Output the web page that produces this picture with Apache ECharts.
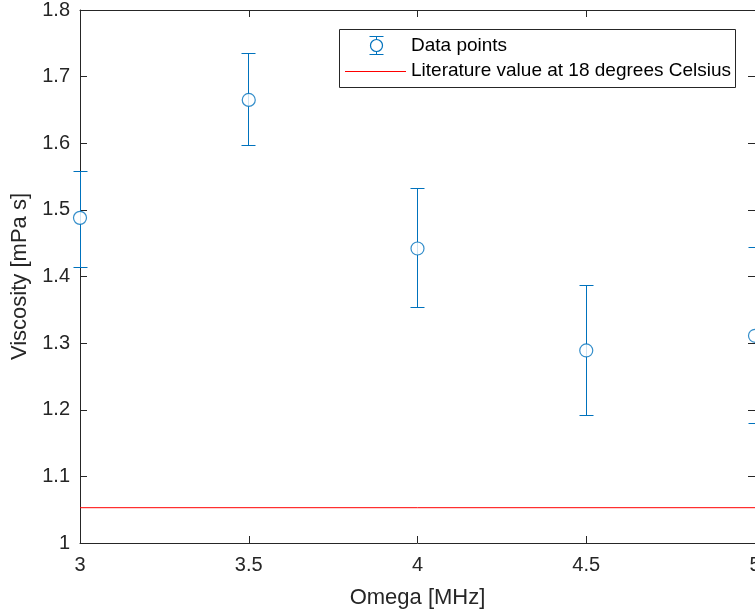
<!DOCTYPE html>
<html>
<head>
<meta charset="utf-8">
<script src="https://cdn.jsdelivr.net/npm/echarts@6/dist/echarts.min.js"></script>
<style>html,body{margin:0;padding:0;background:#fff}#c{width:755px;height:615px}</style>
</head>
<body>
<div id="c"></div>
<script>
// ---- data ----
const omega = [3, 3.5, 4, 4.5, 5];
const viscosity = [1.488, 1.665, 1.442, 1.289, 1.311];
const errLower = [1.413, 1.596, 1.354, 1.192, 1.180];
const errUpper = [1.558, 1.734, 1.532, 1.386, 1.444];
const literatureValue = 1.053;
const xTicks = [3, 3.5, 4, 4.5, 5];
const yTicks = [1, 1.1, 1.2, 1.3, 1.4, 1.5, 1.6, 1.7, 1.8];
const seriesNames = ['Data points', 'Literature value at 18 degrees Celsius'];

const blue = '#0072BD';
const red = '#FF0000';
const axisCol = '#262626';
const FONT = '"Liberation Sans", Arial, sans-serif';

const chart = echarts.init(document.getElementById('c'), null, {renderer: 'canvas'});

const errData = omega.map((x, i) => [x, errLower[i], errUpper[i]]);
const ptData = omega.map((x, i) => [x, viscosity[i]]);
const xMin = xTicks[0], xMax = xTicks[xTicks.length - 1];

const axisCommon = {
  axisLine: {show: true, lineStyle: {color: axisCol, width: 1}},
  axisTick: {show: true, inside: true, length: 7, lineStyle: {color: axisCol}},
  splitLine: {show: false}
};

const option = {
  animation: false,
  backgroundColor: '#fff',
  grid: {left: 80, right: 0, top: 10, bottom: 72, containLabel: false, outerBoundsMode: 'none'},
  xAxis: [
    Object.assign({
      type: 'value', min: xMin, max: xMax, interval: 0.5, position: 'bottom',
      name: 'Omega [MHz]', nameLocation: 'middle', nameGap: 44,
      nameTextStyle: {fontFamily: FONT, fontSize: 22, color: axisCol},
      axisLabel: {fontFamily: FONT, fontSize: 20, color: axisCol, margin: 12,
        formatter: v => String(v)}
    }, axisCommon),
    Object.assign({
      type: 'value', min: xMin, max: xMax, interval: 0.5, position: 'top',
      axisLabel: {show: false}
    }, axisCommon)
  ],
  yAxis: [
    Object.assign({
      type: 'value', min: yTicks[0], max: yTicks[yTicks.length - 1], interval: 0.1, position: 'left',
      name: 'Viscosity [mPa s]', nameLocation: 'middle', nameGap: 47, nameRotate: 90,
      nameTextStyle: {fontFamily: FONT, fontSize: 22, color: axisCol},
      axisLabel: {fontFamily: FONT, fontSize: 20, color: axisCol, margin: 10,
        formatter: v => String(Math.round(v * 10) / 10)}
    }, axisCommon),
    Object.assign({
      type: 'value', min: yTicks[0], max: yTicks[yTicks.length - 1], interval: 0.1, position: 'right',
      axisLabel: {show: false}
    }, axisCommon)
  ],
  series: [
    {
      name: seriesNames[1],
      type: 'line',
      data: [[xMin, literatureValue], [xMax, literatureValue]],
      symbol: 'none',
      lineStyle: {color: red, width: 1},
      z: 2
    },
    {
      name: seriesNames[0] + ' err',
      type: 'custom',
      data: errData,
      clip: false,
      renderItem: function (params, api) {
        const x = api.value(0);
        const lo = api.coord([x, api.value(1)]);
        const hi = api.coord([x, api.value(2)]);
        const px = Math.round(lo[0] - 0.5) + 0.5;
        const yl = Math.round(lo[1] - 0.5) + 0.5;
        const yh = Math.round(hi[1] - 0.5) + 0.5;
        const w = 7;
        const st = {stroke: blue, lineWidth: 1};
        return {
          type: 'group',
          children: [
            {type: 'line', shape: {x1: px, y1: yl, x2: px, y2: yh}, style: st},
            {type: 'line', shape: {x1: px - w, y1: yl, x2: px + w, y2: yl}, style: st},
            {type: 'line', shape: {x1: px - w, y1: yh, x2: px + w, y2: yh}, style: st}
          ]
        };
      },
      z: 3
    },
    {
      name: seriesNames[0],
      type: 'scatter',
      data: ptData,
      symbol: 'circle',
      symbolSize: 13,
      clip: false,
      itemStyle: {color: '#fff', borderColor: blue, borderWidth: 1.2},
      z: 4
    }
  ],
  graphic: [
    {type: 'rect', z: 10, shape: {x: 339.5, y: 29.5, width: 396, height: 58},
      style: {fill: '#fff', stroke: axisCol, lineWidth: 1}},
    {type: 'line', z: 11, shape: {x1: 376.5, y1: 36.5, x2: 376.5, y2: 54.5}, style: {stroke: blue, lineWidth: 1}},
    {type: 'line', z: 11, shape: {x1: 369.5, y1: 36.5, x2: 383.5, y2: 36.5}, style: {stroke: blue, lineWidth: 1}},
    {type: 'line', z: 11, shape: {x1: 369.5, y1: 54.5, x2: 383.5, y2: 54.5}, style: {stroke: blue, lineWidth: 1}},
    {type: 'circle', z: 12, shape: {cx: 376.5, cy: 45.5, r: 6}, style: {fill: '#fff', stroke: blue, lineWidth: 1.2}},
    {type: 'line', z: 11, shape: {x1: 345, y1: 71.5, x2: 406, y2: 71.5}, style: {stroke: red, lineWidth: 1}},
    {type: 'text', z: 11, x: 411, y: 46, style: {text: seriesNames[0], font: '19px ' + FONT, fill: '#000', verticalAlign: 'middle'}},
    {type: 'text', z: 11, x: 411, y: 71, style: {text: seriesNames[1], font: '19px ' + FONT, fill: '#000', verticalAlign: 'middle'}}
  ]
};
chart.setOption(option);
</script>
</body>
</html>
